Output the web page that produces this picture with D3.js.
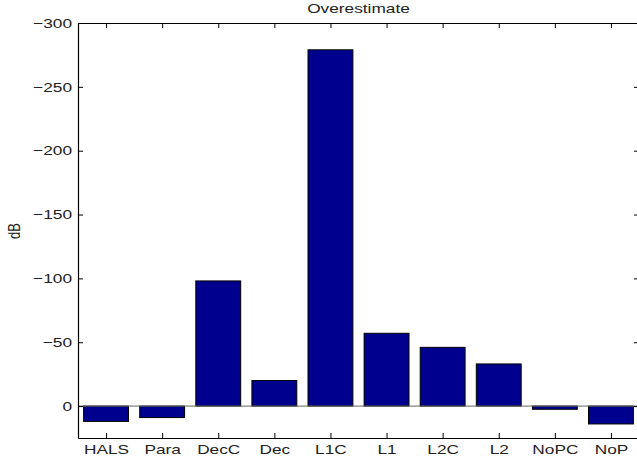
<!DOCTYPE html>
<html>
<head>
<meta charset="utf-8">
<script src="https://cdn.jsdelivr.net/npm/d3@7"></script>
<style>
body { margin: 0; background: #fff; }
text { font-family: "Liberation Sans", Arial, sans-serif; fill: #222; }
</style>
</head>
<body>
<svg width="637" height="468"></svg>
<script>
// chart data
var categories = ['HALS', 'Para', 'DecC', 'Dec', 'L1C', 'L1', 'L2C', 'L2', 'NoPC', 'NoP'];
var values = [12, 9, -98, -20, -279, -57, -46, -33, 2.5, 14];
var yTicks = [0, -50, -100, -150, -200, -250, -300];

var svg = d3.select('svg');
var padding = {t: 23, l: 78, b: 438, r: 639};
// the original figure was stretched sideways, text glyphs too
var stretch = 1.33;
var fontSize = 13;

// categories sit at 1..10, axis runs from 0.5 to 10.5
var xScale = d3.scaleLinear()
    .domain([0.5, categories.length + 0.5])
    .range([padding.l, padding.r]);

// reversed axis: -300 on top, 25 at the bottom
var yScale = d3.scaleLinear()
    .domain([-300, 25])
    .range([padding.t, padding.b]);

var barWidth = (xScale(2) - xScale(1)) * 0.8;

var data = categories.map(function(c, i) {
    return {name: c, pos: i + 1, value: values[i]};
});

// bars
svg.append('g').selectAll('rect')
    .data(data)
    .enter()
    .append('rect')
    .attr('x', function(d) { return xScale(d.pos) - barWidth / 2; })
    .attr('y', function(d) { return Math.min(yScale(d.value), yScale(0)); })
    .attr('width', barWidth)
    .attr('height', function(d) { return Math.abs(yScale(d.value) - yScale(0)); })
    .attr('fill', '#00008f')
    .attr('stroke', '#000')
    .attr('stroke-width', 1);

// baseline at zero
svg.append('line')
    .attr('x1', padding.l).attr('x2', padding.r)
    .attr('y1', yScale(0)).attr('y2', yScale(0))
    .attr('stroke', '#666')
    .attr('stroke-width', 1);

// axes, ticks drawn inward like matlab
var axisStyle = function(g) {
    g.select('.domain').attr('stroke', '#000').attr('stroke-width', 1.2);
    g.selectAll('.tick line').attr('stroke', '#000');
    g.selectAll('.tick text')
        .attr('font-size', fontSize)
        .attr('fill', '#222')
        .attr('transform', 'scale(' + stretch + ',1)');
};

svg.append('g')
    .attr('transform', 'translate(0,' + padding.b + ')')
    .call(d3.axisBottom(xScale)
        .tickValues(d3.range(1, categories.length + 1))
        .tickFormat(function(d) { return categories[d - 1]; })
        .tickSizeInner(-5).tickSizeOuter(0).tickPadding(7))
    .call(axisStyle);

svg.append('g')
    .attr('transform', 'translate(0,' + padding.t + ')')
    .call(d3.axisTop(xScale)
        .tickValues(d3.range(1, categories.length + 1))
        .tickFormat('')
        .tickSizeInner(-5).tickSizeOuter(0))
    .call(axisStyle);

svg.append('g')
    .attr('transform', 'translate(' + padding.l + ',0)')
    .call(d3.axisLeft(yScale)
        .tickValues(yTicks)
        .tickFormat(function(d) { return d === 0 ? '0' : '\u2212' + Math.abs(d); })
        .tickSizeInner(-5).tickSizeOuter(0).tickPadding(4.5))
    .call(axisStyle);

svg.append('g')
    .attr('transform', 'translate(' + padding.r + ',0)')
    .call(d3.axisRight(yScale)
        .tickValues(yTicks)
        .tickFormat('')
        .tickSizeInner(-5).tickSizeOuter(0))
    .call(axisStyle);

// title and axis label
svg.append('text')
    .attr('transform', 'translate(' + (padding.l + padding.r) / 2 + ',13) scale(' + stretch + ',1)')
    .attr('text-anchor', 'middle')
    .attr('font-size', fontSize)
    .text('Overestimate');

svg.append('text')
    .attr('transform', 'translate(20,' + yScale(-137) + ') scale(' + stretch + ',1) rotate(-90)')
    .attr('text-anchor', 'middle')
    .attr('font-size', fontSize)
    .text('dB');
</script>
</body>
</html>
